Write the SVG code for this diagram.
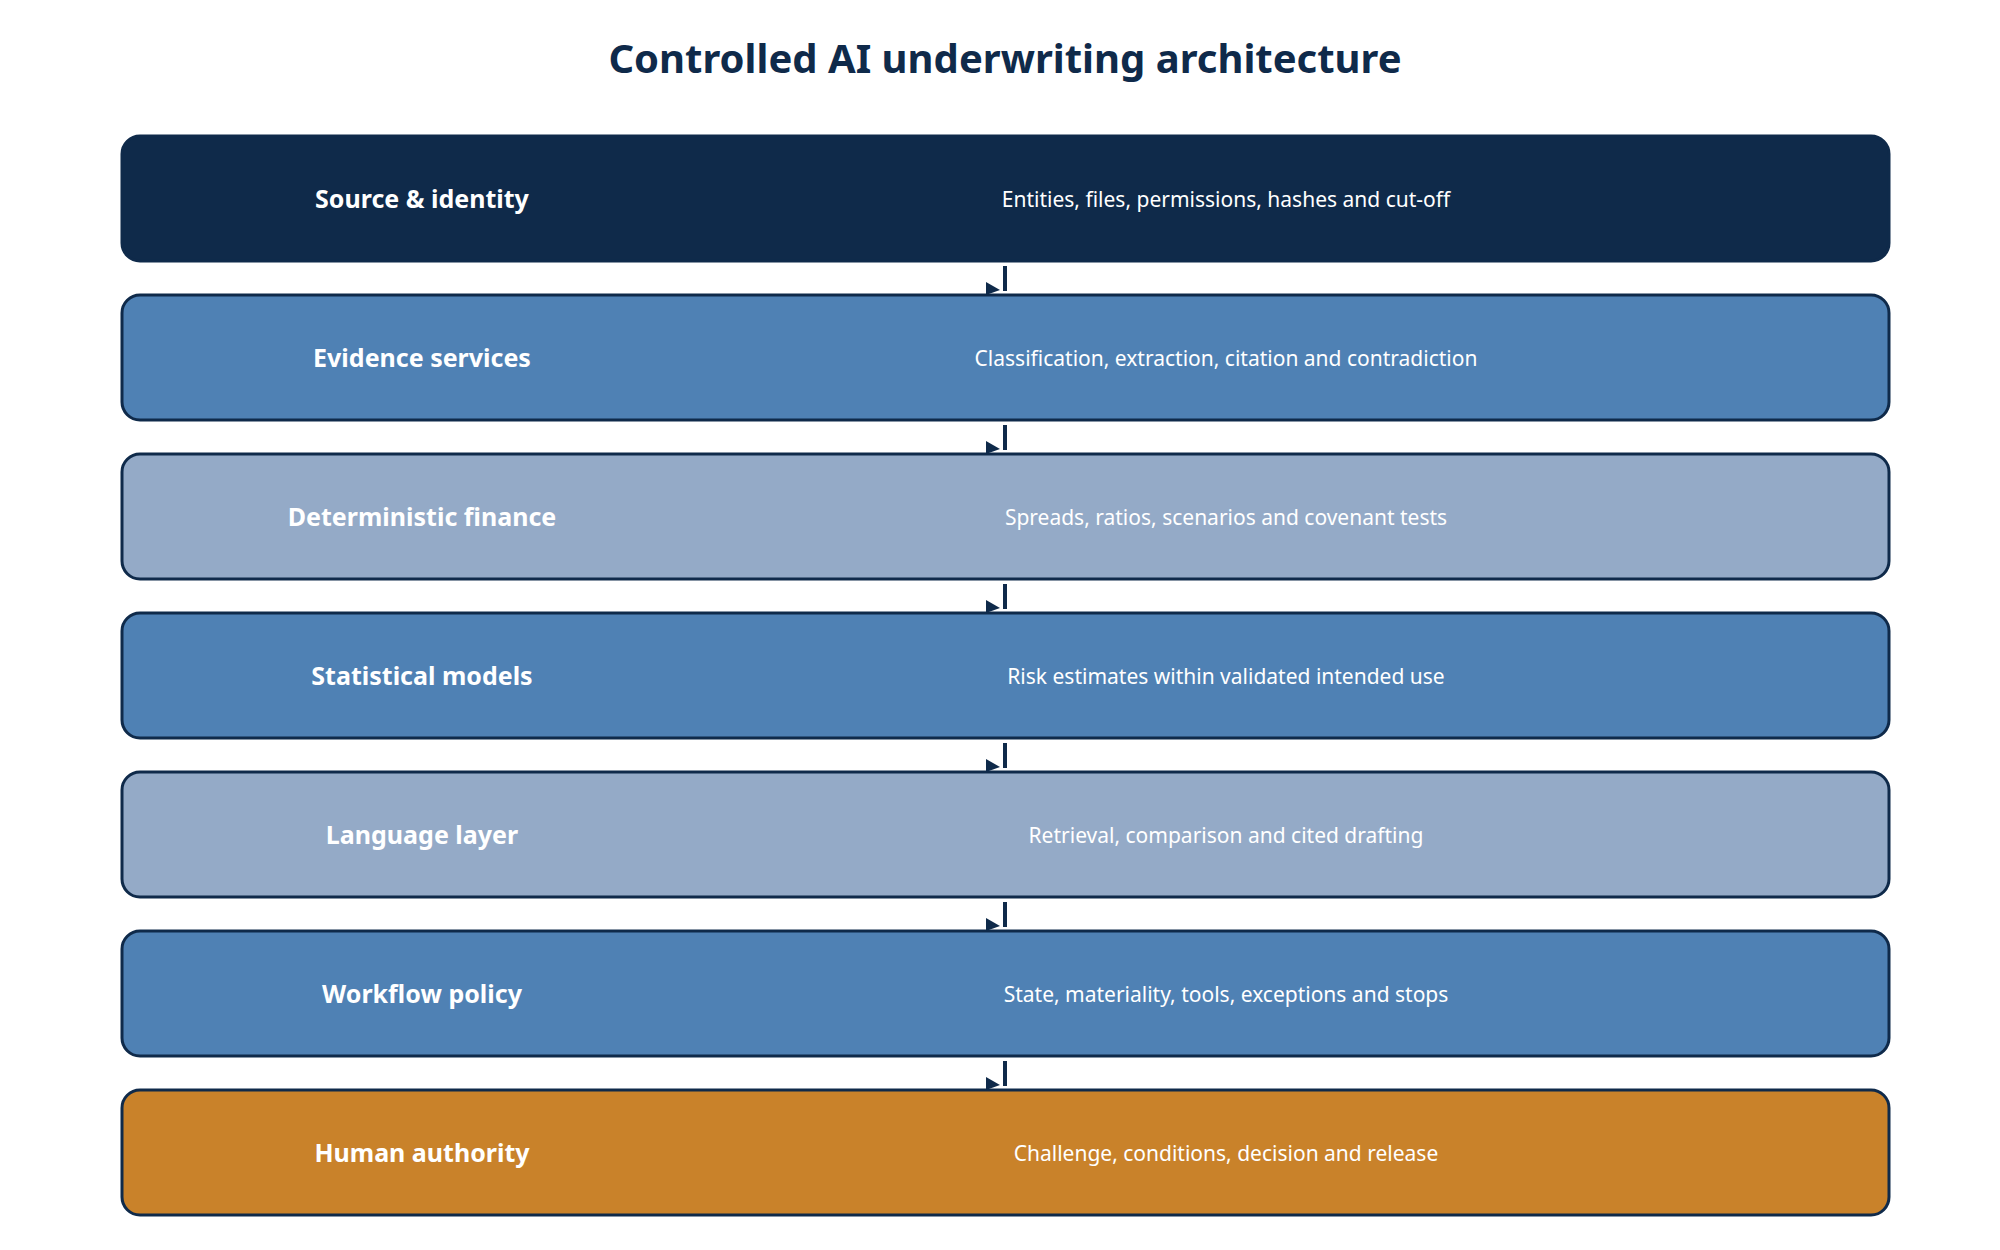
<svg xmlns="http://www.w3.org/2000/svg" width="2000" height="1250" viewBox="0 0 2000 1250">
<style>
.box{stroke:#0F2A4A;stroke-width:3}
.lab{font-family:"Noto Sans","Open Sans",sans-serif;font-weight:bold;font-size:25px;fill:#fff;text-anchor:middle}
.desc{font-family:"Noto Sans","Open Sans",sans-serif;font-size:21px;fill:#fff;text-anchor:middle}
.title{font-family:"Noto Sans","Open Sans",sans-serif;font-weight:bold;font-size:40px;fill:#0F2A4A;text-anchor:middle}
.c{stroke:#0F2A4A;stroke-width:4;fill:none}
.h{fill:#0F2A4A}
</style>
<rect width="2000" height="1250" fill="#fff"/>
<text class="title" x="1005" y="73">Controlled AI underwriting architecture</text>
<g id="n1"><rect class="box" x="122" y="136" width="1767" height="125" rx="18" fill="#0F2A4A"/><text class="lab" x="422" y="208">Source &amp; identity</text><text class="desc" x="1226" y="207">Entities, files, permissions, hashes and cut-off</text></g>
<g id="n2"><rect class="box" x="122" y="295" width="1767" height="125" rx="18" fill="#4F81B4"/><text class="lab" x="422" y="367">Evidence services</text><text class="desc" x="1226" y="366">Classification, extraction, citation and contradiction</text></g>
<g id="n3"><rect class="box" x="122" y="454" width="1767" height="125" rx="18" fill="#94AAC7"/><text class="lab" x="422" y="526">Deterministic finance</text><text class="desc" x="1226" y="525">Spreads, ratios, scenarios and covenant tests</text></g>
<g id="n4"><rect class="box" x="122" y="613" width="1767" height="125" rx="18" fill="#4F81B4"/><text class="lab" x="422" y="685">Statistical models</text><text class="desc" x="1226" y="684">Risk estimates within validated intended use</text></g>
<g id="n5"><rect class="box" x="122" y="772" width="1767" height="125" rx="18" fill="#94AAC7"/><text class="lab" x="422" y="844">Language layer</text><text class="desc" x="1226" y="843">Retrieval, comparison and cited drafting</text></g>
<g id="n6"><rect class="box" x="122" y="931" width="1767" height="125" rx="18" fill="#4F81B4"/><text class="lab" x="422" y="1003">Workflow policy</text><text class="desc" x="1226" y="1002">State, materiality, tools, exceptions and stops</text></g>
<g id="n7"><rect class="box" x="122" y="1090" width="1767" height="125" rx="18" fill="#C9822A"/><text class="lab" x="422" y="1162">Human authority</text><text class="desc" x="1226" y="1161">Challenge, conditions, decision and release</text></g>
<g id="connectors">
<g transform="translate(0,0)"><path class="c" d="M1005 266V291"/><polygon class="h" points="986,282 1000,290 986,295"/></g>
<g transform="translate(0,159)"><path class="c" d="M1005 266V291"/><polygon class="h" points="986,282 1000,290 986,295"/></g>
<g transform="translate(0,318)"><path class="c" d="M1005 266V291"/><polygon class="h" points="986,282 1000,290 986,295"/></g>
<g transform="translate(0,477)"><path class="c" d="M1005 266V291"/><polygon class="h" points="986,282 1000,290 986,295"/></g>
<g transform="translate(0,636)"><path class="c" d="M1005 266V291"/><polygon class="h" points="986,282 1000,290 986,295"/></g>
<g transform="translate(0,795)"><path class="c" d="M1005 266V291"/><polygon class="h" points="986,282 1000,290 986,295"/></g>
</g>
</svg>
